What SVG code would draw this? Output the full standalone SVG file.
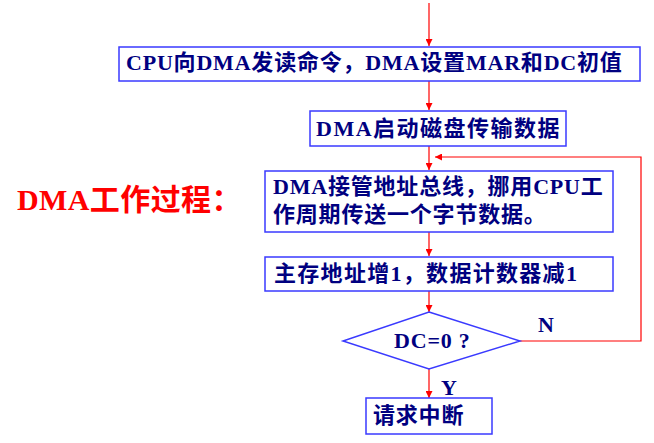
<svg xmlns="http://www.w3.org/2000/svg" width="654" height="443" viewBox="0 0 654 443">
<style>
.box{fill:#fff;stroke:#3a3aff;stroke-width:1.5}
.t{font-family:"Liberation Serif","Noto Sans CJK SC",serif;font-weight:bold;font-size:22px;fill:#000080;letter-spacing:0.8px}
.c{fill:none;stroke:#ff0000;stroke-width:1.2}
</style>
<defs>
<marker id="ah" viewBox="0 0 10 10" refX="10" refY="5" markerWidth="8" markerHeight="7" markerUnits="userSpaceOnUse" orient="auto">
<path d="M0,0 L10,5 L0,10 z" fill="#ff0000"/>
</marker>
</defs>
<rect width="654" height="443" fill="#fff"/>
<text x="17" y="210" font-family="Liberation Serif,Noto Sans CJK SC,serif" font-weight="bold" font-size="30" letter-spacing="0.4" fill="#ff0000">DMA工作过程：</text>
<g id="connectors">
<line class="c" x1="429" y1="3" x2="429" y2="46" marker-end="url(#ah)"/>
<line class="c" x1="429" y1="81" x2="429" y2="110" marker-end="url(#ah)"/>
<line class="c" x1="429" y1="146" x2="429" y2="170" marker-end="url(#ah)"/>
<line class="c" x1="429" y1="232" x2="429" y2="256" marker-end="url(#ah)"/>
<line class="c" x1="429" y1="291" x2="429" y2="312" marker-end="url(#ah)"/>
<line class="c" x1="429" y1="369" x2="429" y2="398" marker-end="url(#ah)"/>
<polyline class="c" points="520,341 641,341 641,157 435,157" marker-end="url(#ah)"/>
<text class="t" x="538" y="332">N</text>
<text class="t" x="441" y="395">Y</text>
</g>
<g id="n1">
<rect class="box" x="119" y="47" width="521" height="34"/>
<text class="t" x="126" y="70">CPU向DMA发读命令，DMA设置MAR和DC初值</text>
</g>
<g id="n2">
<rect class="box" x="310" y="111" width="256" height="35"/>
<text class="t" x="316" y="136" style="letter-spacing:1.5px">DMA启动磁盘传输数据</text>
</g>
<g id="n3">
<rect class="box" x="265" y="171" width="348" height="61"/>
<text class="t" x="273" y="194">DMA接管地址总线，挪用CPU工</text>
<text class="t" x="273" y="222">作周期传送一个字节数据。</text>
</g>
<g id="n4">
<rect class="box" x="265" y="257" width="348" height="34"/>
<text class="t" x="274" y="281" style="letter-spacing:1.3px">主存地址增1，数据计数器减1</text>
</g>
<g id="n5">
<polygon class="box" points="429,312 520,341 429,369 343,341"/>
<text class="t" x="394" y="348">DC=0 ?</text>
</g>
<g id="n6">
<rect class="box" x="366" y="398" width="126" height="36"/>
<text class="t" x="373" y="423">请求中断</text>
</g>
</svg>
